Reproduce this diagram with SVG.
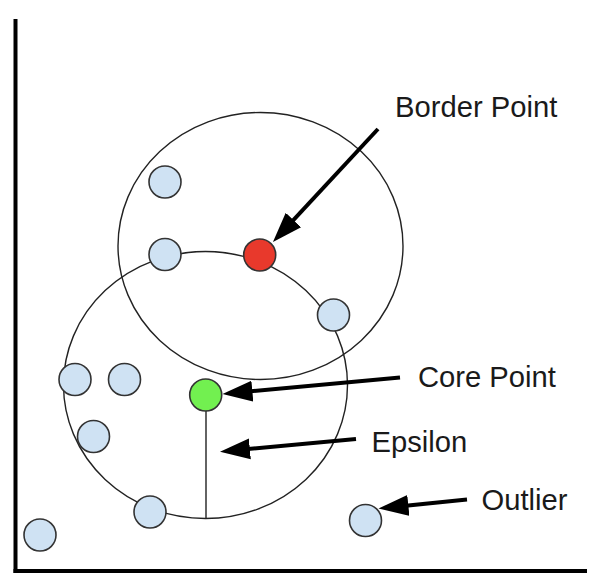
<svg xmlns="http://www.w3.org/2000/svg" width="604" height="585" viewBox="0 0 604 585">
<style>
.ring{fill:none;stroke:#222;stroke-width:1.4}
.pt{fill:#cfe2f3;stroke:#333;stroke-width:1.6}
.arrow{stroke:#000;stroke-width:4;fill:none}
.lbl{font-family:"Liberation Sans",Arial,sans-serif;font-size:29.2px;fill:#1a1a1a}
</style>
<defs>
<marker id="ah" markerUnits="userSpaceOnUse" markerWidth="32" markerHeight="24" viewBox="0 -12 32 24" refX="10" refY="0" orient="auto">
<path d="M0,-10.5 L30,0 L0,10.5 Z" fill="#000"/>
</marker>
</defs>
<rect width="604" height="585" fill="#fff"/>
<g id="axes">
<line x1="15.5" y1="19" x2="15.5" y2="573" stroke="#000" stroke-width="4"/>
<line x1="13.5" y1="571" x2="587" y2="571" stroke="#000" stroke-width="4"/>
</g>
<g id="neighborhoods">
<ellipse class="ring" cx="260.5" cy="246" rx="142.5" ry="133.5"/>
<ellipse class="ring" cx="205.5" cy="385" rx="142" ry="133.5"/>
<line x1="206" y1="395" x2="206" y2="518.5" stroke="#222" stroke-width="1.4"/>
</g>
<g id="points">
<circle class="pt" cx="165" cy="182" r="16"/>
<circle class="pt" cx="165" cy="254.5" r="16"/>
<circle class="pt" cx="333.5" cy="315" r="16"/>
<circle class="pt" cx="75" cy="379.5" r="16"/>
<circle class="pt" cx="124.5" cy="379.5" r="16"/>
<circle class="pt" cx="93.5" cy="436.5" r="16"/>
<circle class="pt" cx="150" cy="512" r="16"/>
<circle class="pt" cx="40" cy="535" r="16"/>
</g>
<g id="border-point"><circle cx="259.7" cy="255" r="16" fill="#e8392c" stroke="#333" stroke-width="1.6"/></g>
<g id="core-point"><circle cx="205.7" cy="395" r="16" fill="#72f050" stroke="#333" stroke-width="1.6"/></g>
<g id="outlier"><circle class="pt" cx="365.5" cy="520.5" r="16"/></g>
<g id="connectors">
<line class="arrow" x1="378" y1="129" x2="286.6" y2="227.3" marker-end="url(#ah)"/>
<line class="arrow" x1="400" y1="377.5" x2="242.4" y2="392.1" marker-end="url(#ah)"/>
<line class="arrow" x1="356" y1="439" x2="239.9" y2="449.8" marker-end="url(#ah)"/>
<line class="arrow" x1="467" y1="499.5" x2="398.4" y2="506.5" marker-end="url(#ah)"/>
</g>
<g id="labels">
<text class="lbl" x="395" y="116.5">Border Point</text>
<text class="lbl" x="418" y="386.5">Core Point</text>
<text class="lbl" x="371.5" y="451.5">Epsilon</text>
<text class="lbl" x="481.5" y="510">Outlier</text>
</g>
</svg>
